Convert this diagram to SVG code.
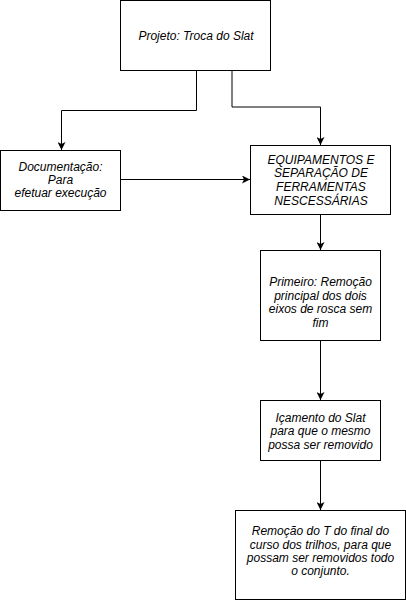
<svg xmlns="http://www.w3.org/2000/svg" width="406" height="601" viewBox="0 0 406 601">
<style>
.box{fill:#fff;stroke:#000;stroke-width:1}
.t{font-family:"Liberation Sans",Arial,sans-serif;font-size:12px;font-style:italic;fill:#000;text-anchor:middle}
.c{fill:none;stroke:#000;stroke-width:1}
</style>
<defs>
<marker id="arr" markerUnits="userSpaceOnUse" markerWidth="8" markerHeight="8" viewBox="0 0 10 10" refX="10" refY="5" orient="auto">
<path d="M0,0 L10,5 L0,10 L2.5,5 Z" fill="#000"/>
</marker>
</defs>
<rect width="406" height="601" fill="#fff"/>
<g id="connectors">
<path class="c" d="M196.5,70.5 V110.5 H61.5 V150" marker-end="url(#arr)"/>
<path class="c" d="M232,70.5 V107 H320.5 V145" marker-end="url(#arr)"/>
<path class="c" d="M120.5,179.5 H250" marker-end="url(#arr)"/>
<path class="c" d="M320.5,214.5 V250" marker-end="url(#arr)"/>
<path class="c" d="M320.5,340.5 V400" marker-end="url(#arr)"/>
<path class="c" d="M320.5,460.5 V510" marker-end="url(#arr)"/>
</g>
<g id="projeto">
<rect class="box" x="120.5" y="0.5" width="150" height="70"/>
<text class="t" x="196" y="40">Projeto: Troca do Slat</text>
</g>
<g id="documentacao">
<rect class="box" x="0.5" y="150.5" width="120" height="60"/>
<text class="t" x="60.5" y="171">Documentação:</text>
<text class="t" x="60.5" y="184">Para</text>
<text class="t" x="60.5" y="197">efetuar execução</text>
</g>
<g id="equipamentos">
<rect class="box" x="250.5" y="145.5" width="140" height="69"/>
<text class="t" x="321" y="163.5">EQUIPAMENTOS E</text>
<text class="t" x="321" y="177">SEPARAÇÃO DE</text>
<text class="t" x="321" y="191">FERRAMENTAS</text>
<text class="t" x="321" y="204.5">NESCESSÁRIAS</text>
</g>
<g id="primeiro">
<rect class="box" x="260.5" y="250.5" width="120" height="90"/>
<text class="t" x="320.5" y="286">Primeiro: Remoção</text>
<text class="t" x="320.5" y="299.5">principal dos dois</text>
<text class="t" x="320.5" y="313">eixos de rosca sem</text>
<text class="t" x="320.5" y="326.5">fim</text>
</g>
<g id="icamento">
<rect class="box" x="260.5" y="400.5" width="120" height="60"/>
<text class="t" x="320.5" y="421.5">Içamento do Slat</text>
<text class="t" x="320.5" y="435">para que o mesmo</text>
<text class="t" x="320.5" y="448.5">possa ser removido</text>
</g>
<g id="remocao">
<rect class="box" x="235.5" y="510.5" width="170" height="89"/>
<text class="t" x="320.5" y="535">Remoção do T do final do</text>
<text class="t" x="320.5" y="548.5">curso dos trilhos, para que</text>
<text class="t" x="320.5" y="562">possam ser removidos todo</text>
<text class="t" x="320.5" y="575">o conjunto.</text>
</g>
</svg>
